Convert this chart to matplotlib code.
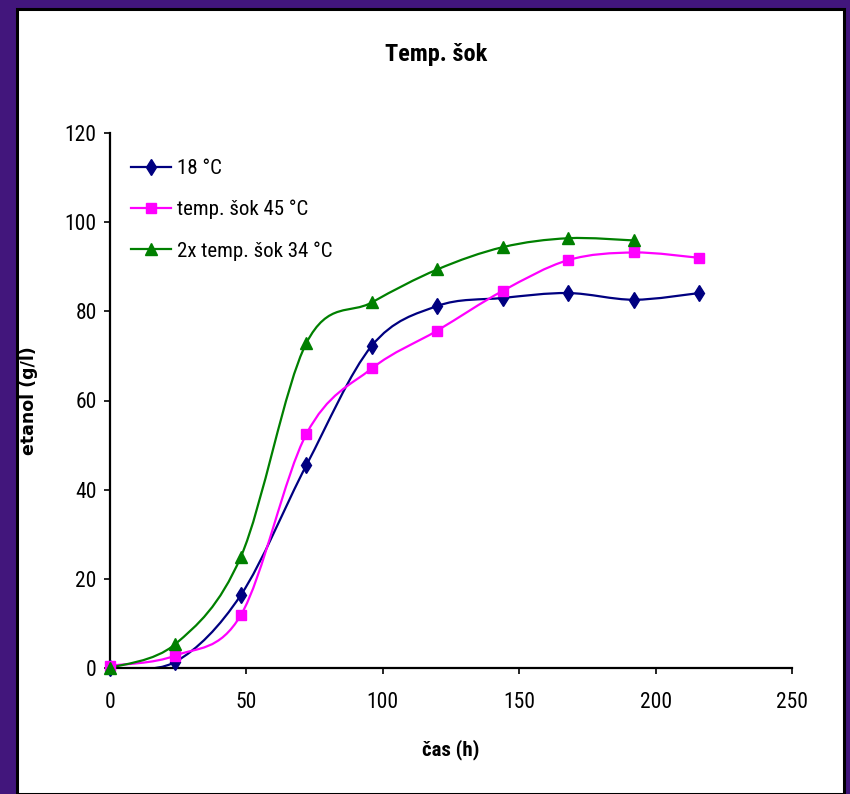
import numpy as np
import matplotlib.pyplot as plt
from matplotlib.path import Path
from matplotlib.patches import PathPatch, Rectangle
from matplotlib.lines import Line2D

# fermentation data (ethanol in g/l)
hours = [0, 24, 48, 72, 96, 120, 144, 168, 192, 216]
hours_2x = [0, 24, 48, 72, 96, 120, 144, 168, 192]
ethanol_18 = [0, 1.4, 16.4, 45.5, 72.3, 81.2, 83.0, 84.1, 82.6, 84.1]
ethanol_45 = [0.5, 2.8, 11.9, 52.5, 67.2, 75.7, 84.6, 91.5, 93.2, 92.0]
ethanol_2x34 = [0, 5.4, 25.0, 72.9, 82.0, 89.4, 94.4, 96.4, 95.9]
labels = ["18 °C", "temp. šok 45 °C", "2x temp. šok 34 °C"]
x_ticks = [0, 50, 100, 150, 200, 250]
y_ticks = [0, 20, 40, 60, 80, 100, 120]

NARROW = ["Liberation Sans Narrow", "DejaVu Sans Condensed", "Roboto Condensed",
          "Roboto", "Liberation Sans"]


def smooth_path(x, y):
    # bezier curve through the points, like the "smoothed line" option in Excel
    pts = np.column_stack([x, y]).astype(float)
    n = len(pts)
    verts = [pts[0]]
    codes = [Path.MOVETO]
    for i in range(n - 1):
        p0 = pts[max(i - 1, 0)]
        p1 = pts[i]
        p2 = pts[i + 1]
        p3 = pts[min(i + 2, n - 1)]
        verts += [p1 + (p2 - p0) / 6, p2 - (p3 - p1) / 6, p2]
        codes += [Path.CURVE4] * 3
    return Path(verts, codes)


W, H = 850, 794
fig = plt.figure(figsize=(W / 100, H / 100), dpi=100)
fig.patch.set_facecolor("#42167c")

# white panel with black border
fig.patches.append(Rectangle((17 / W, 0), (844 - 17) / W, 1 - 9 / H,
                             transform=fig.transFigure, facecolor="white",
                             edgecolor="black", linewidth=2.2, zorder=-5))

ax = fig.add_axes([110 / W, 1 - 668 / H, 682 / W, 535 / H])
ax.set_facecolor("none")

series = [
    (hours, ethanol_18, "#000080", "d", 8.5),
    (hours, ethanol_45, "#ff00ff", "s", 7.5),
    (hours_2x, ethanol_2x34, "#008000", "^", 8.5),
]
handles = []
for (x, y, color, marker, ms), label in zip(series, labels):
    ax.add_patch(PathPatch(smooth_path(x, y), facecolor="none",
                           edgecolor=color, linewidth=1.6, zorder=2))
    ax.plot(x, y, linestyle="none", marker=marker, markersize=ms,
            color=color, clip_on=False, zorder=3)
    handles.append(Line2D([], [], color=color, linewidth=1.6, marker=marker,
                          markersize=ms, label=label))

ax.set_xlim(0, 250)
ax.set_ylim(0, 120)
ax.set_xticks(x_ticks)
ax.set_yticks(y_ticks)
for side in ["top", "right"]:
    ax.spines[side].set_visible(False)
for side in ["left", "bottom"]:
    ax.spines[side].set_linewidth(1.6)
ax.tick_params(axis="both", direction="out", length=4.5, width=1.2)
ax.tick_params(axis="x", pad=13)
ax.tick_params(axis="y", pad=5)
for lab in ax.get_xticklabels() + ax.get_yticklabels():
    lab.set_family(NARROW)
    lab.set_fontsize(15.5)

ax.set_xlabel("čas (h)", family=NARROW, fontsize=15, fontweight="bold")
ax.xaxis.set_label_coords(0.5, (668 - 739) / 535)
ax.set_ylabel("etanol (g/l)", family="DejaVu Sans", fontsize=12.5,
              fontweight="bold")
ax.yaxis.set_label_coords((38 - 110) / 682, 0.5)

fig.text(436 / W, 1 - 60.7 / H, "Temp. šok", ha="center", va="baseline",
         family=NARROW, fontsize=17.5, fontweight="bold")

fig.legend(handles=handles, loc="upper left",
           bbox_to_anchor=(131 / W, 1 - 159 / H), frameon=False,
           prop={"family": NARROW, "size": 15}, borderpad=0,
           borderaxespad=0, handlelength=1.92, handletextpad=0.3,
           labelspacing=1.05)

fig.savefig("out.png", dpi=100, facecolor=fig.get_facecolor())
